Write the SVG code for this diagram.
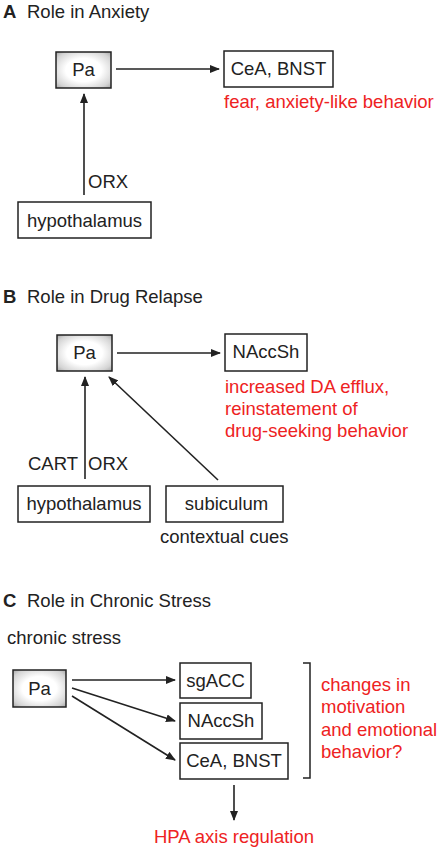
<svg xmlns="http://www.w3.org/2000/svg" width="440" height="850" viewBox="0 0 440 850">
<style>
text{font-family:"Liberation Sans",Arial,sans-serif;font-size:18.5px;fill:#222}
.lab{font-weight:bold}
.red{fill:#ee2222}
.box{fill:#fff;stroke:#222;stroke-width:1.5}
.pa{fill:url(#g);stroke:#222;stroke-width:1.5}
.ln{stroke:#222;stroke-width:1.6;fill:none;marker-end:url(#ah)}
.c{text-anchor:middle}
</style>
<defs>
<radialGradient id="g" cx="0.5" cy="0.5" r="0.72">
<stop offset="0.45" stop-color="#ffffff"/>
<stop offset="0.8" stop-color="#d4d4d4"/>
<stop offset="1" stop-color="#a0a0a0"/>
</radialGradient>
<marker id="ah" viewBox="0 0 10 8" refX="9" refY="4" markerWidth="10" markerHeight="8" markerUnits="userSpaceOnUse" orient="auto">
<path d="M0,0 L10,4 L0,8 z" fill="#222"/>
</marker>
</defs>

<g id="panelA">
<text x="3" y="18" class="lab">A</text>
<text x="27" y="18">Role in Anxiety</text>
<g id="A-pa"><rect x="56" y="52" width="55" height="36" class="pa"/><text x="83.5" y="76" class="c">Pa</text></g>
<g id="A-cea"><rect x="224" y="51" width="109" height="36" class="box"/><text x="278.5" y="75" class="c">CeA, BNST</text></g>
<g id="A-hyp"><rect x="18" y="202" width="133" height="36" class="box"/><text x="84.5" y="227" class="c">hypothalamus</text></g>
<text x="224" y="108" class="red">fear, anxiety-like behavior</text>
<text x="88" y="188">ORX</text>
</g>

<g id="panelB">
<text x="3" y="303" class="lab">B</text>
<text x="27" y="303">Role in Drug Relapse</text>
<g id="B-pa"><rect x="57" y="335" width="55" height="36" class="pa"/><text x="84.5" y="359" class="c">Pa</text></g>
<g id="B-nacc"><rect x="225" y="334" width="82" height="37" class="box"/><text x="266" y="358" class="c">NAccSh</text></g>
<g id="B-hyp"><rect x="18" y="486" width="132" height="36" class="box"/><text x="84" y="510" class="c">hypothalamus</text></g>
<g id="B-sub"><rect x="166" y="486" width="117" height="36" class="box"/><text x="226.5" y="510" class="c">subiculum</text></g>
<text x="160" y="543">contextual cues</text>
<text class="red"><tspan x="225" y="393">increased DA efflux,</tspan><tspan x="225" y="415">reinstatement of</tspan><tspan x="225" y="437">drug-seeking behavior</tspan></text>
<text x="28" y="470">CART</text>
<text x="88" y="470">ORX</text>
</g>

<g id="panelC">
<text x="3" y="607" class="lab">C</text>
<text x="27" y="607">Role in Chronic Stress</text>
<text x="7" y="644">chronic stress</text>
<g id="C-pa"><rect x="13" y="670" width="53" height="37" class="pa"/><text x="39.5" y="695" class="c">Pa</text></g>
<g id="C-sg"><rect x="180" y="663" width="71" height="35" class="box"/><text x="215.5" y="687" class="c">sgACC</text></g>
<g id="C-nacc"><rect x="180" y="703" width="82" height="36" class="box"/><text x="221" y="727" class="c">NAccSh</text></g>
<g id="C-cea"><rect x="180" y="743" width="108" height="36" class="box"/><text x="234" y="767" class="c">CeA, BNST</text></g>
<path d="M303,663 H310 V778 H303" fill="none" stroke="#222" stroke-width="1.5"/>
<text class="red"><tspan x="321" y="691">changes in</tspan><tspan x="321" y="713">motivation</tspan><tspan x="321" y="736">and emotional</tspan><tspan x="321" y="758">behavior?</tspan></text>
<text x="234" y="843" class="red c">HPA axis regulation</text>
</g>

<g id="connectors">
<line x1="116" y1="69" x2="219" y2="69" class="ln"/>
<line x1="84" y1="195" x2="84" y2="94" class="ln"/>
<line x1="117" y1="353" x2="220" y2="353" class="ln"/>
<line x1="85" y1="479" x2="85" y2="377" class="ln"/>
<line x1="218" y1="480" x2="109" y2="377" class="ln"/>
<line x1="72" y1="680" x2="175" y2="680" class="ln"/>
<line x1="72" y1="688" x2="175" y2="721" class="ln"/>
<line x1="72" y1="696" x2="175" y2="760" class="ln"/>
<line x1="234" y1="785" x2="234" y2="820" class="ln"/>
</g>
</svg>
